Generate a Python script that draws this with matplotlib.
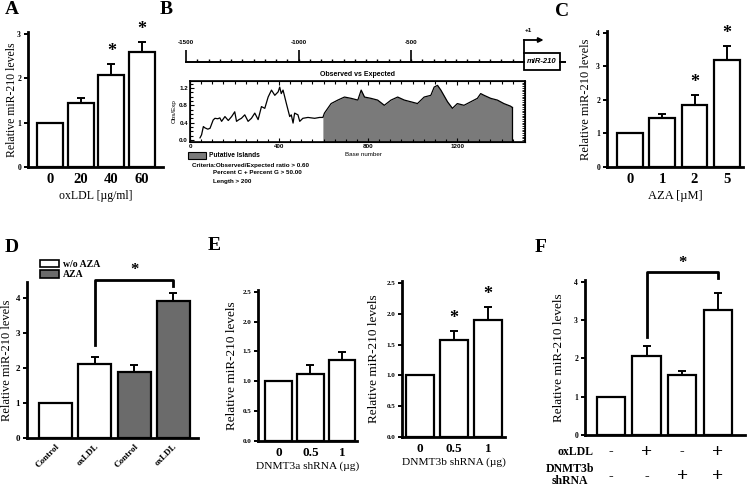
import numpy as np
import matplotlib.pyplot as plt
from matplotlib.patches import Patch, Rectangle

plt.rcParams['font.family'] = 'Liberation Serif'
plt.rcParams['font.weight'] = 'bold'

# ---- data ----
# A: oxLDL dose
a_labels = ['0', '20', '40', '60']
a_vals = [1.0, 1.45, 2.07, 2.6]
a_err = [0.0, 0.1, 0.26, 0.23]
a_sig = [False, False, True, True]

# B: CpG island plot (Obs/Exp along promoter)
b_bp = [45, 52, 60, 67, 80, 90, 104, 112, 125, 134, 142, 157, 172, 187, 201, 209,
        220, 231, 246, 261, 276, 291, 306, 321, 336, 351, 366, 381, 396, 403, 410,
        418, 433, 448, 455, 463, 470, 485, 493, 507, 530, 560, 582, 597,
        604, 634, 664, 694, 724, 754, 769, 784, 813, 843, 873, 903, 933, 963, 993,
        1022, 1052, 1082, 1097, 1112, 1127, 1157, 1179, 1201, 1231, 1261, 1291,
        1306, 1321, 1351, 1381, 1410, 1440, 1448]
b_ratio = [0.05, 0.12, 0.31, 0.28, 0.25, 0.27, 0.46, 0.50, 0.49, 0.51, 0.43, 0.54,
           0.45, 0.54, 0.65, 0.43, 0.47, 0.50, 0.58, 0.43, 0.50, 0.62, 0.47, 0.77,
           0.73, 0.99, 1.15, 1.03, 1.11, 1.22, 1.07, 1.15, 0.84, 0.54, 0.58, 0.39,
           0.62, 0.58, 0.43, 0.50, 0.52, 0.50, 0.52, 0.52,
           0.62, 0.84, 0.92, 0.99, 0.96, 0.92, 1.15, 0.99, 0.96, 0.92, 0.80, 0.92,
           0.99, 0.92, 0.88, 0.84, 0.99, 1.03, 1.22, 1.26, 1.15, 0.88, 0.73, 0.84,
           0.80, 0.88, 0.96, 1.07, 1.03, 0.96, 0.92, 0.84, 0.78, 0.75]
island_start = 597
promoter_major = [-1500, -1000, -500]
promoter_minor = list(range(-1450, 0, 50))

# C: AZA dose
c_labels = ['0', '1', '2', '5']
c_vals = [1.0, 1.45, 1.85, 3.18]
c_err = [0.0, 0.13, 0.28, 0.42]
c_sig = [False, False, True, True]

# D: oxLDL +/- AZA
d_labels = ['Control', 'oxLDL', 'Control', 'oxLDL']
d_vals = [1.0, 2.1, 1.87, 3.9]
d_err = [0.0, 0.2, 0.2, 0.25]
d_group = ['w/o AZA', 'w/o AZA', 'AZA', 'AZA']

# E: DNMT3a / DNMT3b shRNA
e_labels = ['0', '0.5', '1']
e1_vals = [1.0, 1.13, 1.35]
e1_err = [0.0, 0.14, 0.14]
e2_vals = [1.0, 1.58, 1.9]
e2_err = [0.0, 0.14, 0.21]
e2_sig = [False, True, True]

# F: oxLDL + DNMT3b shRNA
f_vals = [1.0, 2.07, 1.57, 3.27]
f_err = [0.0, 0.26, 0.1, 0.45]
f_oxldl = ['-', '+', '-', '+']
f_shrna = ['-', '-', '+', '+']

W, H = 750, 492
fig = plt.figure(figsize=(W / 100, H / 100), dpi=100)


def px_axes(x0, y0, x1, y1):
    return fig.add_axes([x0 / W, 1 - y1 / H, (x1 - x0) / W, (y1 - y0) / H])


def bar_panel(ax, vals, errs, xlim, ylim, yticks, width, colors=None, ylab_x=-0.12,
              ylab_size=8.5, ytick_size=5.5, sig=None, ticklabels=None, xsize=10.5):
    x = np.arange(len(vals))
    if colors is None:
        colors = ['white'] * len(vals)
    bars = ax.bar(x, vals, width=width, color=colors, edgecolor='black', linewidth=1.6, zorder=2)
    ax.errorbar(x, vals, yerr=[np.zeros(len(errs)), errs], fmt='none', ecolor='black',
                elinewidth=1.4, capsize=2.8, capthick=1.4, zorder=3)
    ax.set_xlim(xlim)
    ax.set_ylim(ylim)
    ax.set_yticks(yticks)
    for s in ['top', 'right']:
        ax.spines[s].set_visible(False)
    for s in ['left', 'bottom']:
        ax.spines[s].set_linewidth(2)
    if ticklabels is not None:
        ax.set_xticks(x, ticklabels)
    else:
        ax.set_xticks([])
    ax.tick_params(axis='x', length=0, pad=4, labelsize=xsize)
    ax.tick_params(axis='y', length=3, width=1.4, labelsize=ytick_size, pad=2)
    ax.set_ylabel('Relative miR-210 levels', fontsize=ylab_size)
    ax.yaxis.set_label_coords(ylab_x, 0.5)
    if sig is not None:
        for xi, v, e, s in zip(x, vals, errs, sig):
            if s:
                ax.annotate('*', (xi, v + e), xytext=(0, 9), textcoords='offset points',
                            ha='center', va='center', fontsize=13)
    return bars


# ---- A ----
axA = px_axes(28, 32, 163, 167)
bar_panel(axA, a_vals, a_err, (-0.72, 3.68), (0, 3.05), [0, 1, 2, 3], 0.85,
          ylab_x=-0.074, ylab_size=8.5, sig=a_sig, ticklabels=a_labels)
axA.set_xlabel('oxLDL [\u00b5g/ml]', fontsize=8.5, labelpad=3)

# ---- C ----
axC = px_axes(607, 31, 743, 167)
bar_panel(axC, c_vals, c_err, (-0.71, 3.5), (0, 4.05), [0, 1, 2, 3, 4], 0.8,
          ylab_x=-0.11, ylab_size=9, sig=c_sig, ticklabels=c_labels)
axC.set_xlabel('AZA [\u00b5M]', fontsize=9, labelpad=3)

# ---- D ----
axD = px_axes(27, 282, 198, 438)
d_colors = ['white' if g == 'w/o AZA' else '#6b6b6b' for g in d_group]
bar_panel(axD, d_vals, d_err, (-0.73, 3.63), (0, 4.45), [0, 1, 2, 3, 4], 0.84,
          colors=d_colors, ylab_x=-0.082, ylab_size=9, ytick_size=6.5, ticklabels=d_labels,
          xsize=6.5)
for lab in axD.get_xticklabels():
    lab.set_rotation(45)
    lab.set_ha('right')
    lab.set_rotation_mode('anchor')
axD.tick_params(axis='x', pad=3)
axD.plot([1, 1, 3, 3], [2.65, 4.5, 4.5, 4.35], color='black', lw=2, clip_on=False)
axD.text(2, 4.8, '*', ha='center', va='center', fontsize=12)
handles = [Patch(facecolor='white', edgecolor='black', lw=1.2),
           Patch(facecolor='#6b6b6b', edgecolor='black', lw=1.2)]
fig.legend(handles, ['w/o AZA', 'AZA'], loc='upper left',
           bbox_to_anchor=(40 / W, 1 - 260 / H), frameon=False, fontsize=7,
           handlelength=2.0, handleheight=0.8, handletextpad=0.4, labelspacing=0.1,
           borderpad=0, borderaxespad=0)

# ---- E ----
axE1 = px_axes(258, 290, 357, 441)
bar_panel(axE1, e1_vals, e1_err, (-0.65, 2.47), (0, 2.53), [0, 0.5, 1.0, 1.5, 2.0, 2.5],
          0.83, ylab_x=-0.2, ylab_size=9.5, ytick_size=5, ticklabels=e_labels, xsize=9.5)
axE1.yaxis.set_major_formatter(plt.FormatStrFormatter('%.1f'))
axE1.set_xlabel('DNMT3a shRNA (\u00b5g)', fontsize=8.2, labelpad=2)

axE2 = px_axes(402, 281, 505, 437)
bar_panel(axE2, e2_vals, e2_err, (-0.53, 2.5), (0, 2.53), [0, 0.5, 1.0, 1.5, 2.0, 2.5],
          0.8, ylab_x=-0.21, ylab_size=9.5, ytick_size=5, sig=e2_sig, ticklabels=e_labels,
          xsize=9.5)
axE2.yaxis.set_major_formatter(plt.FormatStrFormatter('%.1f'))
axE2.set_xlabel('DNMT3b shRNA (\u00b5g)', fontsize=8.2, labelpad=2)

# ---- F ----
axF = px_axes(585, 280, 745, 435)
bar_panel(axF, f_vals, f_err, (-0.73, 3.77), (0, 4.05), [0, 1, 2, 3, 4], 0.79,
          ylab_x=-0.125, ylab_size=9.5, ytick_size=5.5)
axF.plot([1, 1, 3, 3], [2.55, 4.25, 4.25, 4.1], color='black', lw=2, clip_on=False)
axF.text(2, 4.5, '*', ha='center', va='center', fontsize=12)
xt = axF.get_xaxis_transform()
for i, (s1, s2) in enumerate(zip(f_oxldl, f_shrna)):
    axF.text(i, -0.11, s1, transform=xt, ha='center', va='center',
             fontsize=14 if s1 == '+' else 10)
    axF.text(i, -0.27, s2, transform=xt, ha='center', va='center',
             fontsize=14 if s2 == '+' else 10)
axF.text(0.05, -0.11, 'oxLDL', transform=axF.transAxes, ha='right', va='center', fontsize=8.5)
axF.text(0.06, -0.26, 'DNMT3b\nshRNA', transform=axF.transAxes, ha='right', va='center',
         fontsize=8.5, linespacing=1.0, multialignment='center')

# ---- B: promoter schematic ----
sans = 'Liberation Sans'
axS = px_axes(180, 22, 566, 72)
scale = 338 / 1501
axS.set_xlim(-1500 - 6 / scale, 1 + 42 / scale)
axS.set_ylim(0, 1)
axS.axis('off')
axS.plot([-1500, 1], [0.2, 0.2], color='black', lw=1.4)
axS.plot([161, 1 + 42 / scale], [0.2, 0.2], color='black', lw=1.4)
axS.vlines(promoter_minor, 0.2, 0.27, color='black', lw=1)
axS.vlines(promoter_major, 0.2, 0.44, color='black', lw=1.2)
for p in promoter_major:
    axS.text(p, 0.58, str(p), ha='center', va='center', fontsize=4.5, family=sans)
axS.add_patch(Rectangle((1, 0.05), 160, 0.33, facecolor='white', edgecolor='black', lw=1.3))
axS.text(81, 0.215, 'miR-210', ha='center', va='center', fontsize=5.5, style='italic',
         family=sans)
axS.plot([1, 1], [0.38, 0.64], color='black', lw=1.3)
axS.annotate('', xy=(88, 0.64), xytext=(0, 0.64),
             arrowprops=dict(arrowstyle='-|>', color='black', lw=1.3, mutation_scale=7,
                             shrinkA=0, shrinkB=0))
axS.text(3, 0.83, '+1', ha='left', va='center', fontsize=4.5, family=sans)

# ---- B: obs/exp plot ----
axB = px_axes(190, 81, 525, 142)
bx = np.array(b_bp)
by = np.array(b_ratio)
ymin = -0.046
mask = bx >= island_start
axB.fill_between(bx[mask], by[mask], ymin, color='#7a7a7a', lw=0)
axB.plot(bx, by, color='black', lw=0.9)
axB.plot([bx[-1], bx[-1]], [ymin, by[-1]], color='black', lw=0.9)
axB.set_xlim(0, 1505)
axB.set_ylim(ymin, 1.36)
axB.set_xticks([0, 400, 800, 1200])
axB.set_xticks(np.arange(0, 1501, 50), minor=True)
axB.set_yticks([0.0, 0.4, 0.8, 1.2])
axB.set_yticks(np.arange(0, 1.31, 0.1), minor=True)
axB.yaxis.set_major_formatter(plt.FormatStrFormatter('%.1f'))
axB.tick_params(which='both', direction='in', top=True, labelsize=4.5, pad=1.5,
                width=0.8, labelfontfamily=sans)
axB.tick_params(which='major', length=3)
axB.tick_params(which='minor', length=2)
for s in axB.spines.values():
    s.set_linewidth(1.2)
axB2 = axB.twinx()
axB2.set_ylim(ymin, 1.36)
axB2.set_yticks(np.arange(0, 1.36, 0.04))
axB2.tick_params(direction='in', length=2.5, width=0.6, labelright=False)
axB.set_ylabel('Obs/Exp', fontsize=4.5, family=sans, weight='normal', labelpad=2)
axB.text(0.5, 1.1, 'Observed vs Expected', transform=axB.transAxes, ha='center',
         va='center', fontsize=5, family=sans)
fig.text(363 / W, 1 - 155 / H, 'Base number', ha='center', va='center', fontsize=4.5,
         family=sans, weight='normal')
fig.patches.append(Rectangle((188 / W, 1 - 159 / H), 18 / W, 7 / H, facecolor='#7a7a7a',
                             edgecolor='black', lw=0.8, transform=fig.transFigure))
fig.text(209 / W, 1 - 155.5 / H, 'Putative Islands', ha='left', va='center', fontsize=4.8,
         family=sans)
fig.text(192 / W, 1 - 165 / H, 'Criteria:Observed/Expected ratio > 0.60', ha='left',
         va='center', fontsize=4.5, family=sans)
fig.text(213 / W, 1 - 173 / H, 'Percent C + Percent G > 50.00', ha='left', va='center',
         fontsize=4.5, family=sans)
fig.text(213 / W, 1 - 181 / H, 'Length > 200', ha='left', va='center', fontsize=4.5,
         family=sans)

# ---- panel letters ----
for lab, x, y in [('A', 5, 10), ('B', 160, 10), ('C', 555, 12), ('D', 5, 248),
                  ('E', 208, 246), ('F', 535, 248)]:
    fig.text(x / W, 1 - y / H, lab, ha='left', va='center', fontsize=14)

fig.savefig('out.png', dpi=100)
